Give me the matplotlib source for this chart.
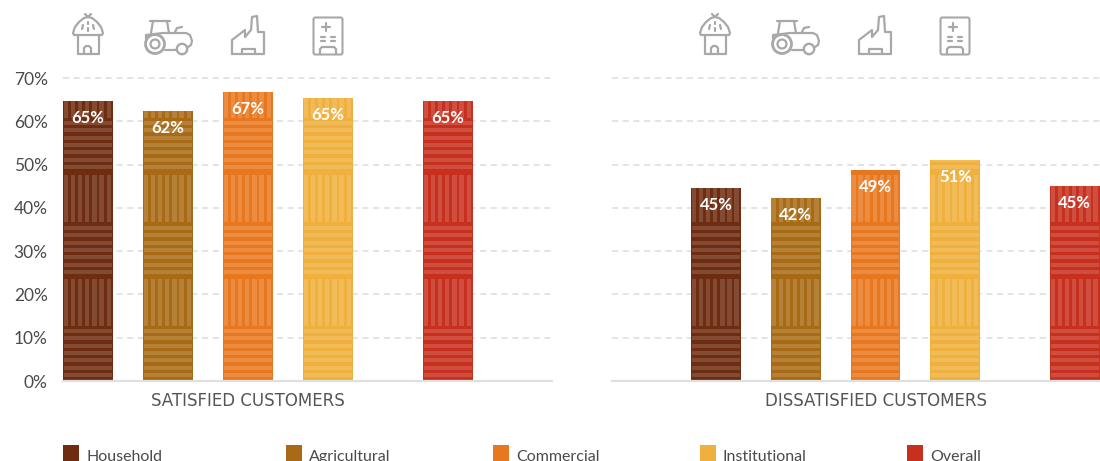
import numpy as np
import matplotlib
matplotlib.use('Agg')
import matplotlib.pyplot as plt
from matplotlib.patches import Rectangle, Circle, FancyBboxPatch

plt.rcParams['font.family'] = ['Lato', 'DejaVu Sans']

categories = ['Household', 'Agricultural', 'Commercial', 'Institutional', 'Overall']
colors = ['#6e2c10', '#a96a16', '#e87820', '#efb03d', '#c8301e']
satisfied = [64.7, 62.3, 66.7, 65.4, 64.7]
dissatisfied = [44.6, 42.3, 48.7, 51.0, 45.0]
satisfied_labels = ['65%', '62%', '67%', '65%', '65%']
dissatisfied_labels = ['45%', '42%', '49%', '51%', '45%']
yticks = [0, 10, 20, 30, 40, 50, 60, 70]
panel_titles = ['SATISFIED CUSTOMERS', 'DISSATISFIED CUSTOMERS']
positions = [0, 1, 2, 3, 4.5]

W, H = 1100, 461
PX_X = 80.0    # pixels per category step
PX_Y = 4.33    # pixels per percent
BAR_W = 50 / PX_X
GREY = '#a8a8a8'
TEXT = '#4a4a4a'

# weave bands of the bar texture, in percent: (start, end, direction)
bands = [(0.9, 12.0, 'h'), (12.6, 23.6, 'v'), (24.7, 36.0, 'h'), (36.8, 47.6, 'v'),
         (49.0, 60.0, 'h'), (60.7, 72, 'v')]


def add_texture(ax, x, value):
    clip = Rectangle((x - BAR_W / 2, 0), BAR_W, value, transform=ax.transData)
    pitch, inset = 7.35, 1.0
    for lo, hi, direction in bands:
        if direction == 'h':
            for i in range(7):
                y0 = lo + i * pitch / PX_Y
                r = Rectangle((x - BAR_W / 2 + inset / PX_X, y0), BAR_W - 2 * inset / PX_X, 4.0 / PX_Y,
                              fc='white', alpha=0.15, lw=0, zorder=3)
                ax.add_patch(r)
                r.set_clip_path(clip)
        else:
            for i in range(7):
                x0 = x - BAR_W / 2 + (0.6 + i * 7.15) / PX_X
                r = Rectangle((x0, lo), 4.4 / PX_X, hi - lo, fc='white', alpha=0.15, lw=0, zorder=3)
                ax.add_patch(r)
                r.set_clip_path(clip)


def draw_panel(ax, values, labels, title, title_x):
    ax.bar(positions, values, width=BAR_W, color=colors, zorder=2, linewidth=0)
    for x, v, lab in zip(positions, values, labels):
        add_texture(ax, x, v)
        ax.annotate(lab, (x, v), xytext=(0, -12.2), textcoords='offset points', ha='center', va='center',
                    color='white', fontsize=12, fontweight='bold', zorder=5)
    ax.set_ylim(0, 70)
    ax.set_yticks(yticks)
    ax.grid(axis='y', color='#dddddd', linewidth=1.1, linestyle=(0, (4, 3)), zorder=0)
    for g in ax.get_ygridlines():
        g.set_clip_on(False)
    for s in ['top', 'right', 'left']:
        ax.spines[s].set_visible(False)
    ax.spines['bottom'].set_color('#e0e0e0')
    ax.spines['bottom'].set_linewidth(1.6)
    ax.spines['bottom'].set_zorder(6)
    ax.set_xticks([])
    ax.tick_params(axis='y', length=0)
    ax.set_axisbelow(True)
    overlay.text(title_x, 401, title, ha='center', va='center', fontsize=12, color='#555555', family='DejaVu Sans')


def icon_line(ax, pts, dx):
    xs = [p[0] + dx for p in pts]
    ys = [p[1] for p in pts]
    ax.plot(xs, ys, color=GREY, lw=1.6, solid_capstyle='round', solid_joinstyle='round')


def draw_icons(ax, dx):
    # hut
    icon_line(ax, [(73, 33), (75, 27), (79, 22), (84, 18), (88, 17), (92, 18), (97, 22), (101, 27), (103, 33),
                   (102, 35), (74, 35), (73, 33)], dx)
    icon_line(ax, [(78, 35), (78, 54), (99, 54), (99, 35)], dx)
    icon_line(ax, [(84, 54), (84, 48), (86, 46), (89, 46), (91, 48), (91, 54)], dx)
    icon_line(ax, [(85, 14), (88, 17), (91, 14)], dx)
    for seg in [[(83, 25), (82, 29)], [(88, 22), (88, 24)], [(93, 25), (94, 29)], [(88, 28), (88, 31)]]:
        icon_line(ax, seg, dx)
    # tractor
    ax.add_patch(Circle((155 + dx, 44), 9.5, fill=False, ec=GREY, lw=2.0))
    ax.add_patch(Circle((155 + dx, 44), 4.5, fill=False, ec=GREY, lw=1.6))
    ax.add_patch(Circle((182 + dx, 49), 5.2, fill=False, ec=GREY, lw=1.7))
    icon_line(ax, [(150, 21), (170, 21)], dx)
    icon_line(ax, [(153, 21), (151, 33)], dx)
    icon_line(ax, [(167, 21), (169, 33)], dx)
    icon_line(ax, [(146, 39), (146, 35), (163, 33), (186, 33), (190, 35), (192, 41), (191, 45), (188, 47)], dx)
    icon_line(ax, [(165, 50), (177, 50)], dx)
    icon_line(ax, [(175, 32), (177, 28), (182, 27)], dx)
    # factory
    icon_line(ax, [(232, 54), (232, 40), (245, 30), (245, 37), (251, 30), (252, 17), (257, 16), (258, 32),
                   (264, 32), (264, 54), (232, 54)], dx)
    icon_line(ax, [(242, 54), (242, 49), (255, 49), (255, 54)], dx)
    # clinic
    ax.add_patch(FancyBboxPatch((315 + dx, 19), 26, 34, boxstyle='round,pad=1.5,rounding_size=2',
                                fill=False, ec=GREY, lw=1.5))
    icon_line(ax, [(326, 23), (326, 31)], dx)
    icon_line(ax, [(322, 27), (330, 27)], dx)
    for y in (37, 41):
        icon_line(ax, [(321, y), (325, y)], dx)
        icon_line(ax, [(331, y), (335, y)], dx)
    icon_line(ax, [(320, 54), (320, 49), (322, 47), (334, 47), (336, 49), (336, 54)], dx)


def px_axes(fig, left, right, top, bottom):
    return fig.add_axes([left / W, 1 - bottom / H, (right - left) / W, (bottom - top) / H])


fig = plt.figure(figsize=(W / 100, H / 100), dpi=100)

overlay = fig.add_axes([0, 0, 1, 1], zorder=10)
overlay.set_xlim(0, W)
overlay.set_ylim(H, 0)
overlay.axis('off')

ax1 = px_axes(fig, 63, 552, 78, 381)
ax1.set_xlim(-25 / PX_X, 464 / PX_X)
draw_panel(ax1, satisfied, satisfied_labels, panel_titles[0], 248)
ax1.set_yticklabels([f'{t}%' for t in yticks], fontsize=12.5, color=TEXT)
ax1.tick_params(axis='y', pad=11)

ax2 = px_axes(fig, 612, 1100, 78, 381)
ax2.set_xlim(-104 / 79.75, 384 / 79.75)
draw_panel(ax2, dissatisfied, dissatisfied_labels, panel_titles[1], 876)
ax2.set_yticklabels([])

draw_icons(overlay, 0)
draw_icons(overlay, 627)

legend_x = [63, 286, 493, 700, 907]
for x, name, c in zip(legend_x, categories, colors):
    overlay.add_patch(Rectangle((x, 445), 16, 16, fc=c, lw=0))
    overlay.text(x + 23, 461, name, ha='left', va='baseline', fontsize=11.5, color=TEXT)

fig.savefig('out.png', dpi=100)
